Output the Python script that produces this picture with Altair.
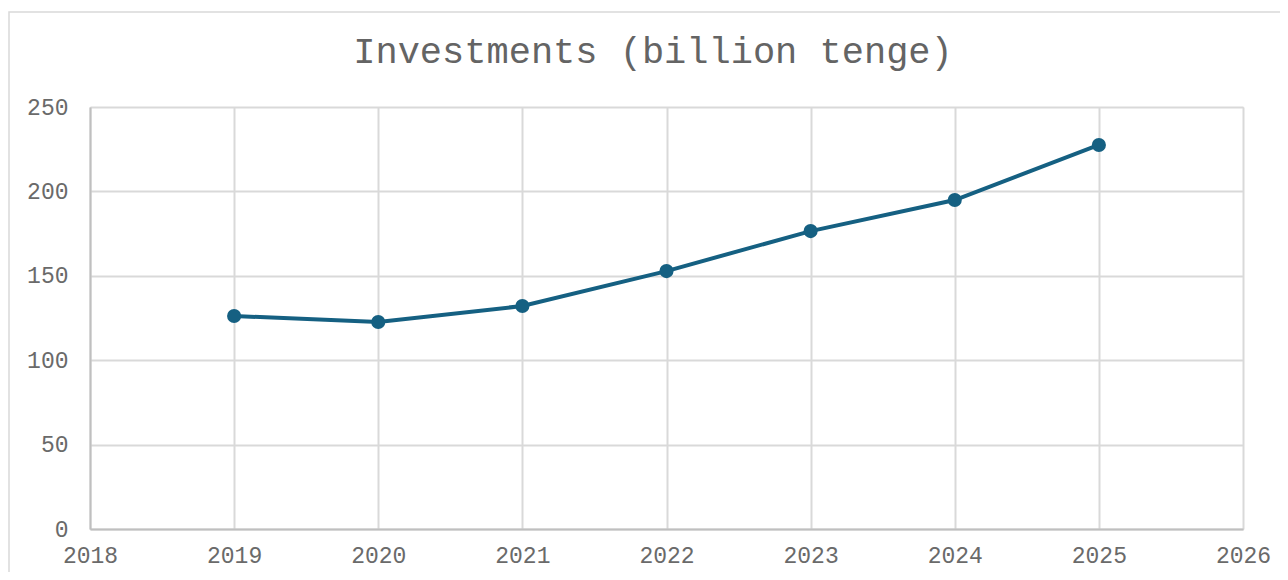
import altair as alt
import pandas as pd

years = [2019, 2020, 2021, 2022, 2023, 2024, 2025]
investments = [126.2, 122.6, 132.1, 152.8, 176.5, 194.9, 227.5]

x_ticks = [2018, 2019, 2020, 2021, 2022, 2023, 2024, 2025, 2026]
y_ticks = [0, 50, 100, 150, 200, 250]
title_text = "Investments (billion tenge)"

df = pd.DataFrame({"year": years, "value": investments})

W, H = 1153, 422
FONT = "Liberation Mono"
BLUE = "#156082"
LABEL = "#6a6a6a"

x = alt.X("year:Q", scale=alt.Scale(domain=[2018, 2026], nice=False, zero=False),
          axis=alt.Axis(values=x_ticks, format="d", title=None, ticks=False,
                        labelFlush=False,
                        labelPadding=15, labelFontSize=23, labelFont=FONT,
                        labelColor=LABEL, gridColor="#d9d9d9", gridWidth=2,
                        domainColor="#bfbfbf", domainWidth=2))
y = alt.Y("value:Q", scale=alt.Scale(domain=[0, 250], nice=False),
          axis=alt.Axis(values=y_ticks, title=None, ticks=False,
                        labelFlush=False,
                        labelPadding=22, labelFontSize=23, labelFont=FONT,
                        labelColor=LABEL, gridColor="#d9d9d9", gridWidth=2,
                        domainColor="#bfbfbf", domainWidth=2))

line = alt.Chart(df).mark_line(color=BLUE, strokeWidth=4).encode(x=x, y=y)
pts = alt.Chart(df).mark_circle(color=BLUE, size=200, opacity=1).encode(x="year:Q", y="value:Q")

first = alt.Chart(df).transform_filter("datum.year == 2019")

frame = first.mark_rect(fill=None, stroke="#d9d9d9", strokeWidth=1.5, clip=False).encode(
    x=alt.value(-81), x2=alt.value(W + 60), y=alt.value(-95), y2=alt.value(H + 80)
)

title = first.mark_text(text=title_text, font=FONT, fontSize=37, color="#646464",
                        align="center", baseline="alphabetic").encode(
    x=alt.value(563), y=alt.value(-44)
)

chart = alt.layer(frame, line, pts, title).properties(
    width=W, height=H,
    autosize=alt.AutoSizeParams(type="none"),
    padding={"left": 82, "top": 99, "right": 37, "bottom": 43},
).configure_view(stroke="#d9d9d9", strokeWidth=2).configure(background="white")

chart.save("out.html", embed_options={"renderer": "svg", "actions": False})
